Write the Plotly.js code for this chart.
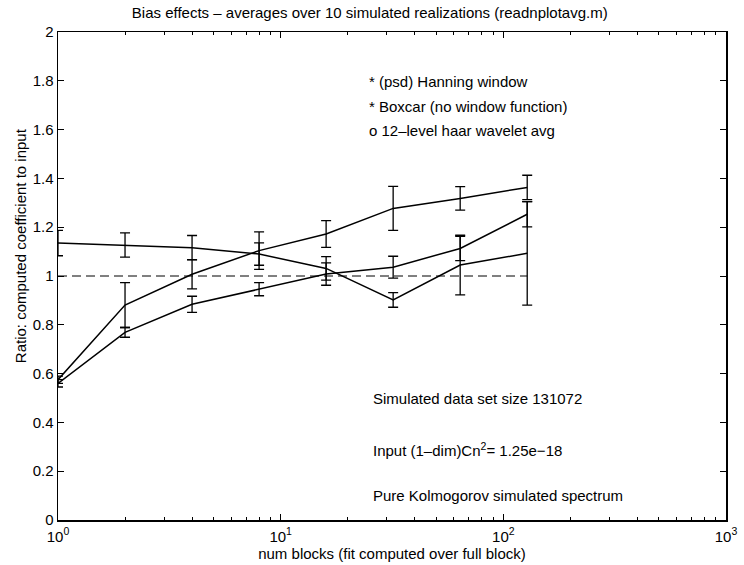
<!DOCTYPE html>
<html>
<head>
<meta charset="utf-8">
<script src="https://cdn.plot.ly/plotly-3.0.1.min.js"></script>
<style>
  html, body { margin: 0; padding: 0; background: #fff; }
  #chart { width: 744px; height: 565px; }
</style>
</head>
<body>
<div id="chart"></div>
<script>
// ---- data ----
const numBlocks = [1, 2, 4, 8, 16, 32, 64, 128];

const hanningRatio = [0.575, 0.881, 1.007, 1.104, 1.172, 1.277, 1.318, 1.363];
const hanningErr   = [0.015, 0.092, 0.060, 0.077, 0.055, 0.090, 0.048, 0.050];

const boxcarRatio  = [0.560, 0.769, 0.884, 0.946, 1.008, 1.036, 1.113, 1.253];
const boxcarErr    = [0.015, 0.020, 0.033, 0.027, 0.046, 0.045, 0.050, 0.052];

const haarRatio    = [1.135, 1.127, 1.116, 1.090, 1.031, 0.902, 1.045, 1.093];
const haarErr      = [0.052, 0.050, 0.050, 0.046, 0.048, 0.030, 0.122, 0.212];

const referenceX   = [1, 128];
const referenceY   = [1, 1];

const xTickVals = [1, 10, 100, 1000];
const xTickText = ['10<sup>0</sup>', '10<sup>1</sup>', '10<sup>2</sup>', '10<sup>3</sup>'];
const yTickVals = [0, 0.2, 0.4, 0.6, 0.8, 1, 1.2, 1.4, 1.6, 1.8, 2];
const yTickText = ['0', '0.2', '0.4', '0.6', '0.8', '1', '1.2', '1.4', '1.6', '1.8', '2'];

const titleText  = 'Bias effects \u2013 averages over 10 simulated realizations (readnplotavg.m)';
const xTitleText = 'num blocks (fit computed over full block)';
const yTitleText = 'Ratio: computed coefficient to input';

const legendLines = [
  '* (psd) Hanning window',
  '* Boxcar (no window function)',
  'o 12\u2013level haar wavelet avg'
];
const infoLines = [
  'Simulated data set size 131072',
  'Input (1\u2013dim)Cn<sup>2</sup>= 1.25e\u221218',
  'Pure Kolmogorov simulated spectrum'
];

// minor ticks of the log axis (2..9 per decade)
const minorVals = [];
for (let d = 0; d < 3; d++) for (let m = 2; m <= 9; m++) minorVals.push(m * Math.pow(10, d));

const FONT = 'Liberation Sans, Arial, Helvetica, sans-serif';
const FS = 15;
const txtFont = { family: FONT, size: FS, color: '#000' };

function series(name, y, err) {
  return {
    type: 'scatter', mode: 'lines', name: name,
    x: numBlocks, y: y,
    line: { color: '#000', width: 1.5 },
    error_y: { type: 'data', array: err, visible: true, color: '#000', thickness: 1.3, width: 5 }
  };
}

const traces = [
  series('(psd) Hanning window', hanningRatio, hanningErr),
  series('Boxcar (no window function)', boxcarRatio, boxcarErr),
  series('12-level haar wavelet avg', haarRatio, haarErr),
  {
    type: 'scatter', mode: 'lines', name: 'ratio = 1',
    x: referenceX, y: referenceY,
    line: { color: '#000', width: 1, dash: '9px,5px' }
  }
];

const annotations = [];
const legendY = [0.898, 0.848, 0.799];
legendLines.forEach((t, i) => annotations.push({
  xref: 'paper', yref: 'paper', x: 0.462, y: legendY[i],
  xanchor: 'left', yanchor: 'middle', showarrow: false, text: t, font: txtFont
}));
const infoY = [0.25, 0.145, 0.05];
infoLines.forEach((t, i) => annotations.push({
  xref: 'paper', yref: 'paper', x: 0.468, y: infoY[i],
  xanchor: 'left', yanchor: 'middle', showarrow: false, text: t, font: txtFont
}));
// y-axis title, placed where the reference draws it
annotations.push({
  xref: 'paper', yref: 'paper', x: -0.057, y: 0.563,
  xanchor: 'center', yanchor: 'middle', textangle: -90,
  showarrow: false, text: yTitleText, font: txtFont
});

const layout = {
  width: 744, height: 565,
  margin: { l: 58, r: 18, t: 32, b: 45, pad: 0 },
  paper_bgcolor: '#fff', plot_bgcolor: '#fff',
  showlegend: false,
  font: txtFont,
  title: {
    text: titleText, font: txtFont,
    xref: 'container', x: 0.497, xanchor: 'center',
    yref: 'container', y: 0.978, yanchor: 'middle'
  },
  xaxis: {
    type: 'log', range: [0, 3], autorange: false,
    tickmode: 'array', tickvals: xTickVals, ticktext: xTickText,
    ticks: 'inside', ticklen: 6, tickwidth: 1, tickcolor: '#000',
    minor: { tickmode: 'array', tickvals: minorVals, ticks: 'inside', ticklen: 3, tickwidth: 1, tickcolor: '#000', showgrid: false },
    showline: true, linecolor: '#000', linewidth: 1.5, mirror: 'allticks',
    showgrid: false, zeroline: false,
    tickfont: txtFont, ticklabelstandoff: 2,
    title: { text: xTitleText, font: txtFont, standoff: 2 },
    automargin: false
  },
  yaxis: {
    range: [0, 2], autorange: false,
    tickmode: 'array', tickvals: yTickVals, ticktext: yTickText,
    ticks: 'inside', ticklen: 6, tickwidth: 1, tickcolor: '#000',
    showline: true, linecolor: '#000', linewidth: 1.5, mirror: 'allticks',
    showgrid: false, zeroline: false,
    tickfont: txtFont,
    automargin: false
  },
  annotations: annotations
};

Plotly.newPlot('chart', traces, layout, { displayModeBar: false, staticPlot: true });
</script>
</body>
</html>
